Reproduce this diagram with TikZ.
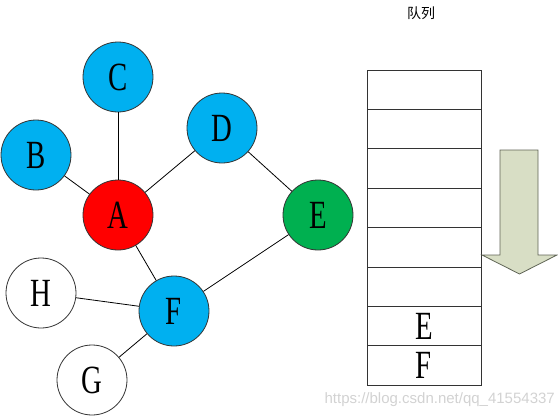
\documentclass[tikz,border=0pt]{standalone}
\usepackage{fontspec}
\usepackage{tikz}
\usetikzlibrary{positioning}
\setmainfont{Liberation Serif}
\setsansfont{Liberation Sans}
\newfontfamily\cjkfont{Noto Sans CJK SC}
\newcommand{\narrowlbl}[1]{\scalebox{0.72}[1]{#1}}
\definecolor{NodeBlue}{RGB}{0,176,240}
\definecolor{NodeRed}{RGB}{255,0,0}
\definecolor{NodeGreen}{RGB}{0,176,80}
\definecolor{ArrowFill}{RGB}{216,222,197}
\definecolor{ArrowEdge}{RGB}{95,100,85}
\definecolor{MarkGray}{RGB}{210,210,210}

\begin{document}
\begin{tikzpicture}[x=1pt,y=-1pt,
	vertex/.style={
		circle,
		draw=black!80,
		line width=0.8pt,
		minimum size=70pt,
		inner sep=0pt,
		font=\rmfamily\fontsize{40}{40}\selectfont
	},
	link/.style={
		black,
		line width=0.8pt
	},
	cellbox/.style={
		draw=black!80,
		line width=0.9pt,
		minimum width=114pt,
		minimum height=39.4pt,
		inner sep=0pt,
		font=\rmfamily\fontsize{40}{40}\selectfont
	}]
				
				\useasboundingbox (0,0) rectangle (558,418);
				
				% graph
				\node[vertex, fill=NodeBlue] (C) at (118,77) {\narrowlbl{C}};
				\node[vertex, fill=NodeBlue] (B) at (36,155) {\narrowlbl{B}};
				\node[vertex, fill=NodeBlue] (D) at (222,128) {\narrowlbl{D}};
				\node[vertex, fill=NodeRed] (A) at (118,215) {\narrowlbl{A}};
				\node[vertex, fill=NodeGreen] (E) at (318,215) {\narrowlbl{E}};
				\node[vertex, fill=white] (H) at (41,293) {\narrowlbl{H}};
				\node[vertex, fill=NodeBlue] (F) at (174,311) {\narrowlbl{F}};
				\node[vertex, fill=white] (G) at (92,380) {\narrowlbl{G}};
				
				\draw[link] (C) -- (A);
				\draw[link] (B) -- (A);
				\draw[link] (D) -- (A);
				\draw[link] (D) -- (E);
				\draw[link] (A) -- (F);
				\draw[link] (E) -- (F);
				\draw[link] (H) -- (F);
				\draw[link] (G) -- (F);
				
				% queue
				\node[font=\cjkfont\fontsize{14}{14}\selectfont] (title) at (421,13) {队列};
				
				\foreach \i/\lbl in {1/{},2/{},3/{},4/{},5/{},6/{},7/E,8/F}
				\node[cellbox] (cell\i) at (424,{50.3+39.4*\i}) {\narrowlbl{\lbl}};
				
				\draw[
				fill=ArrowFill,
				draw=ArrowEdge,
				line width=0.8pt
				]
				(500,150) -- (538,150) -- (538,255) -- (557,255)
				-- (519.5,274) -- (482,255) -- (500,255) -- cycle;
				
				\node[
				anchor=east,
				text=MarkGray,
				font=\sffamily\fontsize{15}{15}\selectfont,
				inner sep=0pt
				]
				(mark)
				at (555,400)
				{https://blog.csdn.net/qq\_41554337};
				
			\end{tikzpicture}
\end{document}
